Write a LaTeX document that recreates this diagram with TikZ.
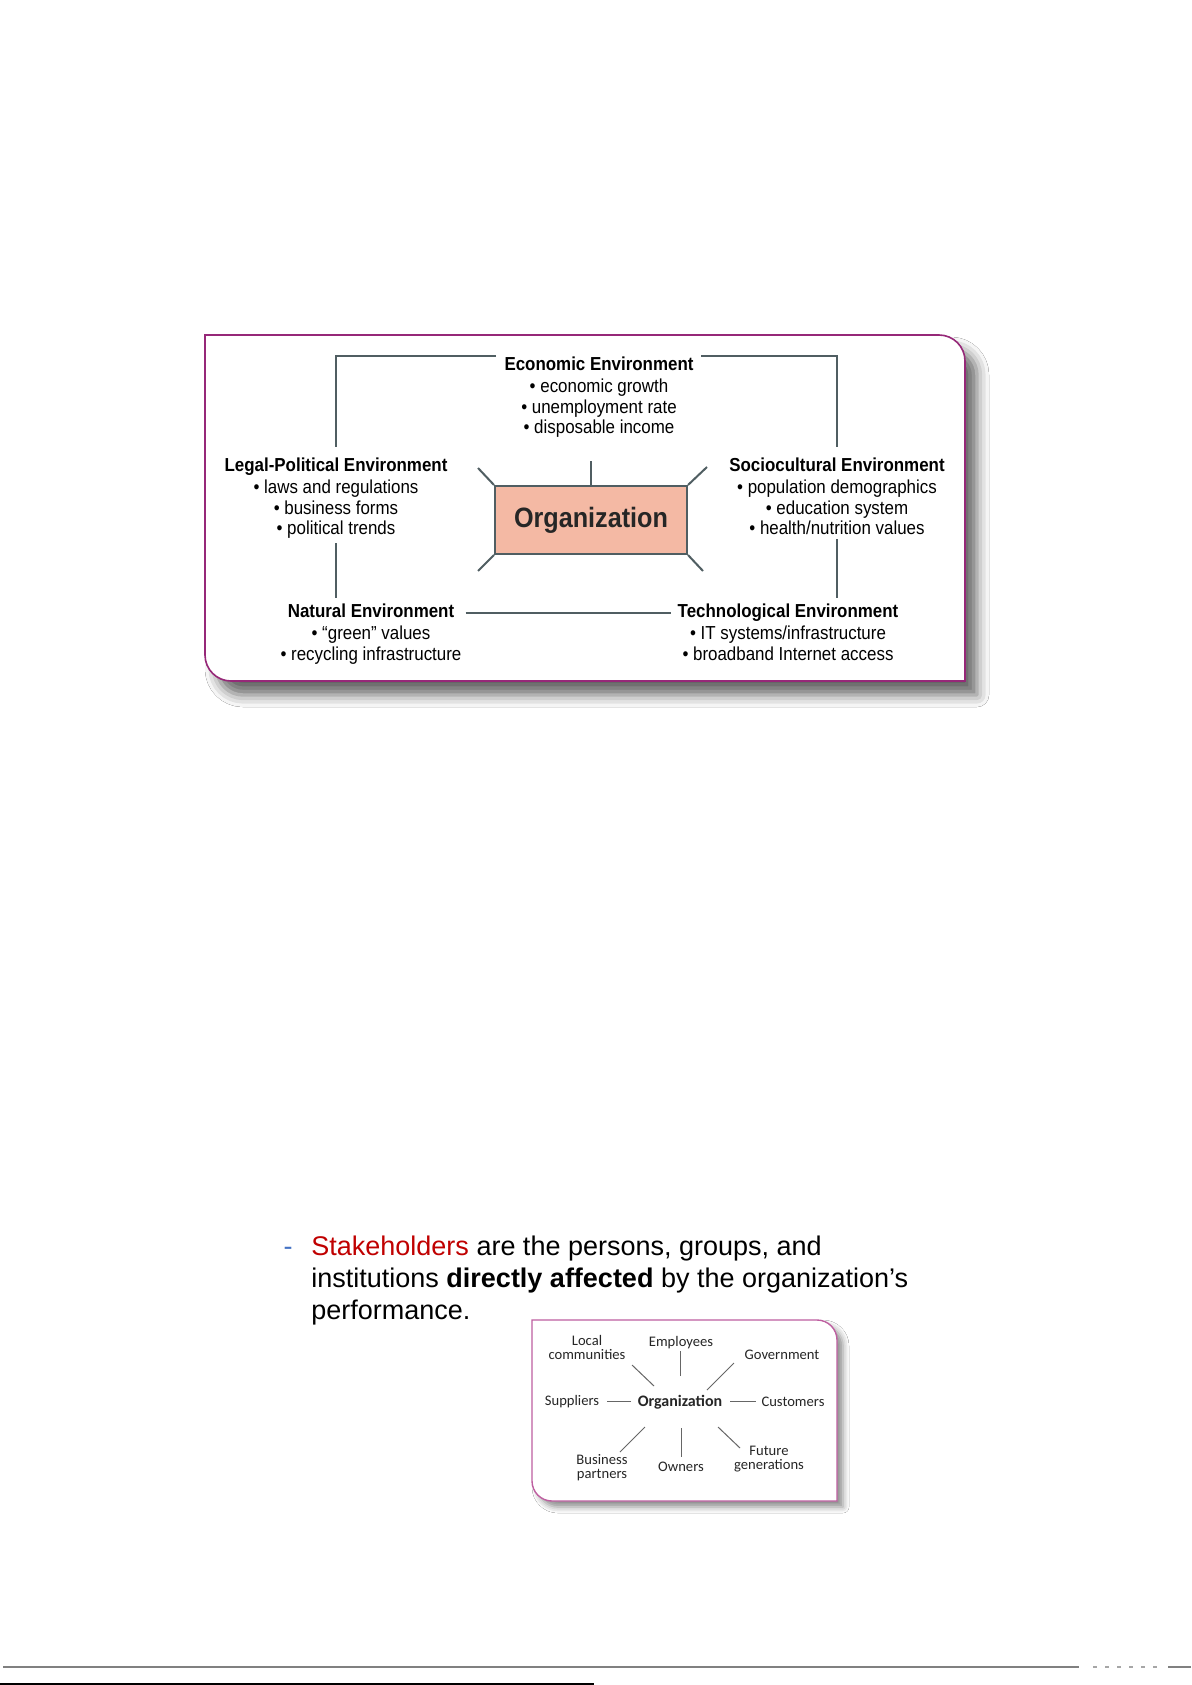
\documentclass[tikz,border=0pt]{standalone}
\usepackage{fontspec}
\setmainfont{Liberation Sans}
\newfontfamily\envfont[FakeStretch=0.9]{Liberation Sans}
\newfontfamily\parafont{Liberation Sans}
\newfontfamily\stakefont{Carlito}
\usetikzlibrary{positioning,shadows.blur}

\definecolor{linkgray}{RGB}{80,94,98}
\definecolor{orgfill}{RGB}{244,185,164}
\definecolor{framemag}{RGB}{150,40,120}
\definecolor{smallmag}{RGB}{190,95,160}
\definecolor{stakered}{RGB}{192,0,0}
\definecolor{dashblue}{RGB}{68,114,196}

\begin{document}
\begin{tikzpicture}[
    x=0.5pt, y=-0.5pt,
    envtitle/.style={inner sep=0pt, text height=0.72em, text depth=0.22em, font=\envfont\fontsize{9.4}{10.2}\selectfont\bfseries},
    envlist/.style={inner sep=0pt, align=center, font=\envfont\fontsize{9.4}{10.25}\selectfont},
    link/.style={draw=linkgray, line width=1pt},
    orgbox/.style={rectangle, draw=linkgray, line width=1pt, fill=orgfill, minimum width=96pt, minimum height=34pt, font=\envfont\fontsize{14}{16}\selectfont\bfseries, text=black!85},
    bigframe/.style={draw=framemag, line width=0.8pt, fill=white, blur shadow={shadow xshift=6pt, shadow yshift=-7pt, shadow blur radius=6pt, shadow opacity=60}},
    smallframe/.style={draw=smallmag, line width=0.7pt, fill=white, blur shadow={shadow xshift=3pt, shadow yshift=-3pt, shadow blur radius=3pt, shadow opacity=45}},
    stake/.style={inner sep=0pt, align=center, font=\stakefont\fontsize{7.3}{6.9}\selectfont, text=black!85},
    spoke/.style={draw=black!60, line width=0.5pt},
    node distance=1.7pt
]
    \path[use as bounding box, fill=white] (0,0) rectangle (1191,1685);

    % frames
    \path[bigframe] (205,335) -- (939,335) arc[start angle=270, end angle=360, radius=26]
        -- (965,681) -- (231,681) arc[start angle=90, end angle=180, radius=26] -- cycle;
    \path[smallframe] (532,1320) -- (817,1320) arc[start angle=270, end angle=360, radius=20]
        -- (837,1501) -- (552,1501) arc[start angle=90, end angle=180, radius=20] -- cycle;

    % environments
    \node[envtitle, anchor=base] (econ) at (599,370.5) {Economic Environment};
    \node[envlist, below=of econ] (econlist) {\textbullet\ economic growth\\ \textbullet\ unemployment rate\\ \textbullet\ disposable income};
    \node[envtitle, anchor=base] (legal) at (336,471.5) {Legal-Political Environment};
    \node[envlist, below=of legal] (legallist) {\textbullet\ laws and regulations\\ \textbullet\ business forms\\ \textbullet\ political trends};
    \node[envtitle, anchor=base] (socio) at (837,471.5) {Sociocultural Environment};
    \node[envlist, below=of socio] (sociolist) {\textbullet\ population demographics\\ \textbullet\ education system\\ \textbullet\ health/nutrition values};
    \node[envtitle, anchor=base] (nat) at (371,617.5) {Natural Environment};
    \node[envlist, below=of nat] (natlist) {\textbullet\ “green” values\\ \textbullet\ recycling infrastructure};
    \node[envtitle, anchor=base] (tech) at (788,617.5) {Technological Environment};
    \node[envlist, below=of tech] (techlist) {\textbullet\ IT systems/infrastructure\\ \textbullet\ broadband Internet access};

    \node[orgbox] (org) at (591,520) {Organization};

    \draw[link, shorten <=4pt, shorten >=5pt] (econ.north west) -| (legal.north);
    \draw[link, shorten <=3.7pt, shorten >=5pt] (econ.north east) -| (socio.north);
    \draw[link, shorten <=2pt, shorten >=2.5pt] (legallist.south) -- (legallist.south |- nat.north);
    \draw[link, shorten <=2pt, shorten >=2.5pt] (sociolist.south) -- (sociolist.south |- tech.north);
    \draw[link, shorten <=5.5pt, shorten >=3pt] (nat.east) -- (tech.west);

    \draw[link] (org.north) -- ++(0,-24);
    \draw[link] (org.north west) -- ++(-16,-17);
    \draw[link] (org.north east) -- ++(19,-18);
    \draw[link] (org.south west) -- ++(-16,16);
    \draw[link] (org.south east) -- ++(15,16);

    % stakeholders text
    \node[anchor=base, inner sep=0pt, text=dashblue, font=\parafont\fontsize{13.5}{16}\selectfont] (dash) at (288,1255) {-};
    \node[anchor=north west, align=left, inner sep=0pt, font=\parafont\fontsize{13.5}{16}\selectfont] (stakeText) at (311,1235.3)
        {\textcolor{stakered}{Stakeholders} are the persons, groups, and\\ institutions \textbf{directly affected} by the organization’s\\ performance.};

    % stakeholder map
    \node[stake, font=\stakefont\fontsize{8}{9}\selectfont\bfseries] (sorg) at (680,1402) {Organization};
    \node[stake] (local) at (587,1347.5) {Local\\ communities};
    \node[stake] (empl) at (681,1343) {Employees};
    \node[stake] (gov) at (782,1355) {Government};
    \node[stake] (supp) at (572,1402) {Suppliers};
    \node[stake] (cust) at (793,1402) {Customers};
    \node[stake] (partn) at (602,1467.5) {Business\\ partners};
    \node[stake] (owner) at (681,1467) {Owners};
    \node[stake] (future) at (769,1459) {Future\\ generations};

    \draw[spoke] ([shift={(-26,-16)}]sorg.center) -- ++(-22,-21);
    \draw[spoke] ([shift={(0,-26)}]sorg.center) -- ++(0,-25);
    \draw[spoke] ([shift={(27,-12)}]sorg.center) -- ++(27,-27);
    \draw[spoke] ([shift={(-49,-1)}]sorg.center) -- ++(-24,0);
    \draw[spoke] ([shift={(50,-1)}]sorg.center) -- ++(26,0);
    \draw[spoke] ([shift={(-35,25)}]sorg.center) -- ++(-25,25);
    \draw[spoke] ([shift={(1,26)}]sorg.center) -- ++(0,29);
    \draw[spoke] ([shift={(38,25)}]sorg.center) -- ++(22,21);

    % page footer
    \draw[black!50, line width=1.3pt] (3,1667) -- (1079,1667);
    \draw[black!35, line width=1pt, dash pattern=on 2pt off 4pt] (1093,1667) -- (1157,1667);
    \draw[black!50, line width=1.3pt] (1168,1667) -- (1191,1667);
    \draw[black, line width=1.2pt] (0,1684) -- (594,1684);
\end{tikzpicture}
\end{document}
